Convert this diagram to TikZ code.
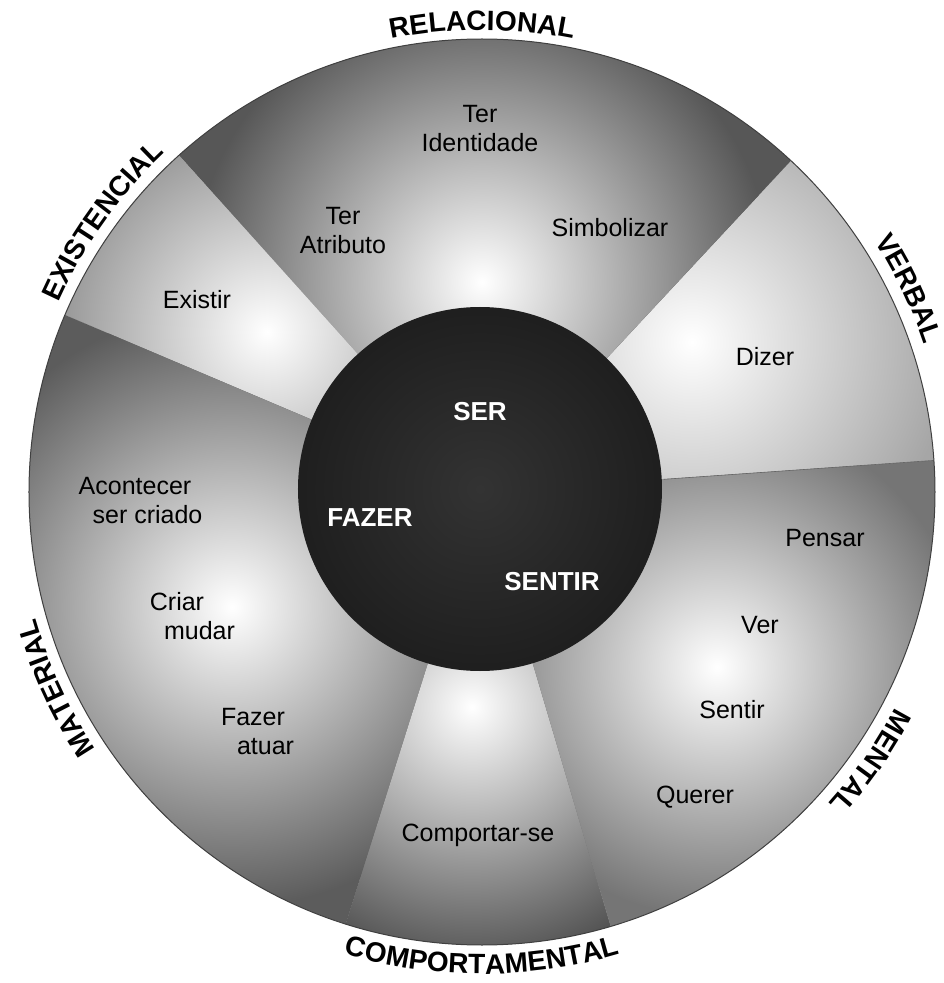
\documentclass[tikz,border=0pt]{standalone}
\usepackage{fontspec}
\setmainfont{Liberation Sans}
\usepackage{tikz}
\usetikzlibrary{decorations.text}
\tikzset{
  verbo/.style={font=\fontsize{25}{29}\selectfont, align=center, inner sep=0},
  nucleo/.style={font=\fontsize{26}{30}\selectfont\bfseries, text=white, inner sep=0},
  rotulo/.style={decorate, decoration={text along path, text align=center,
     text={|\fontsize{28}{28}\selectfont\bfseries|#1}}}
}

\begin{document}
\begin{tikzpicture}[x=1pt,y=1pt]
\useasboundingbox (-482,-491) rectangle (462,492);
% sectors: start/end angle, light spot, spot radius, edge grey
\foreach \a/\b/\sx/\sy/\sr/\g in {4/47/210/150/260/35, 47/132/0/210/290/66,
   132/157/-215/160/230/45, 157/252.5/-250/-115/300/64,
   252.5/286.5/-10/-215/260/68, -73.5/4/235/-175/250/54} {
 \begin{scope}
  \clip (0,0) -- (\a:453) arc (\a:\b:453) -- cycle;
  \fill[black!\g] (0,0) circle (453);
  \shade[inner color=white, outer color=black!\g] (\sx,\sy) circle (\sr);
 \end{scope}
}
\draw[black!60, line width=.6] (4:182) -- (4:453);
\draw[black!75, line width=1] (0,0) circle (453);
\shade[inner color=black!80, outer color=black!88] (-2,3) circle (182);

% centre
\node[nucleo] (ser) at (-2,80) {SER};
\node[nucleo] (fazer) at (-112,-26) {FAZER};
\node[nucleo] (sentir) at (70,-90) {SENTIR};

% processes
\node[verbo] (identidade) at (-2,363) {Ter\\Identidade};
\node[verbo] (atributo) at (-139,261) {Ter\\Atributo};
\node[verbo] (simbolizar) at (128,264) {Simbolizar};
\node[verbo] (existir) at (-285,192) {Existir};
\node[verbo] (dizer) at (283,135) {Dizer};
\node[verbo] (acontecer) at (-347,-9) {Acontecer\\\hspace*{1em}ser criado};
\node[verbo] (criar) at (-305,-124) {Criar\\\hspace*{1.8em}mudar};
\node[verbo] (fazer2) at (-229,-240) {Fazer\\\hspace*{1em}atuar};
\node[verbo] (comportar) at (-4,-343) {Comportar-se};
\node[verbo] (pensar) at (343,-46) {Pensar};
\node[verbo] (ver) at (278,-133) {Ver};
\node[verbo] (sentir2) at (250,-218) {Sentir};
\node[verbo] (querer) at (213,-305) {Querer};

% types of process round the circle
\path[rotulo=RELACIONAL] (130:462) arc (130:50:462);
\path[rotulo=EXISTENCIAL] (184.5:464) arc (184.5:104.5:464);
\path[rotulo=VERBAL] (65.5:466) arc (65.5:-14.5:466);
\path[rotulo=MENTAL] (5.25:466) arc (5.25:-74.75:466);
\path[rotulo=MATERIAL] (244.75:464) arc (244.75:164.75:464);
\path[rotulo=COMPORTAMENTAL] (-130:482) arc (-130:-50:482);
\end{tikzpicture}
\end{document}
